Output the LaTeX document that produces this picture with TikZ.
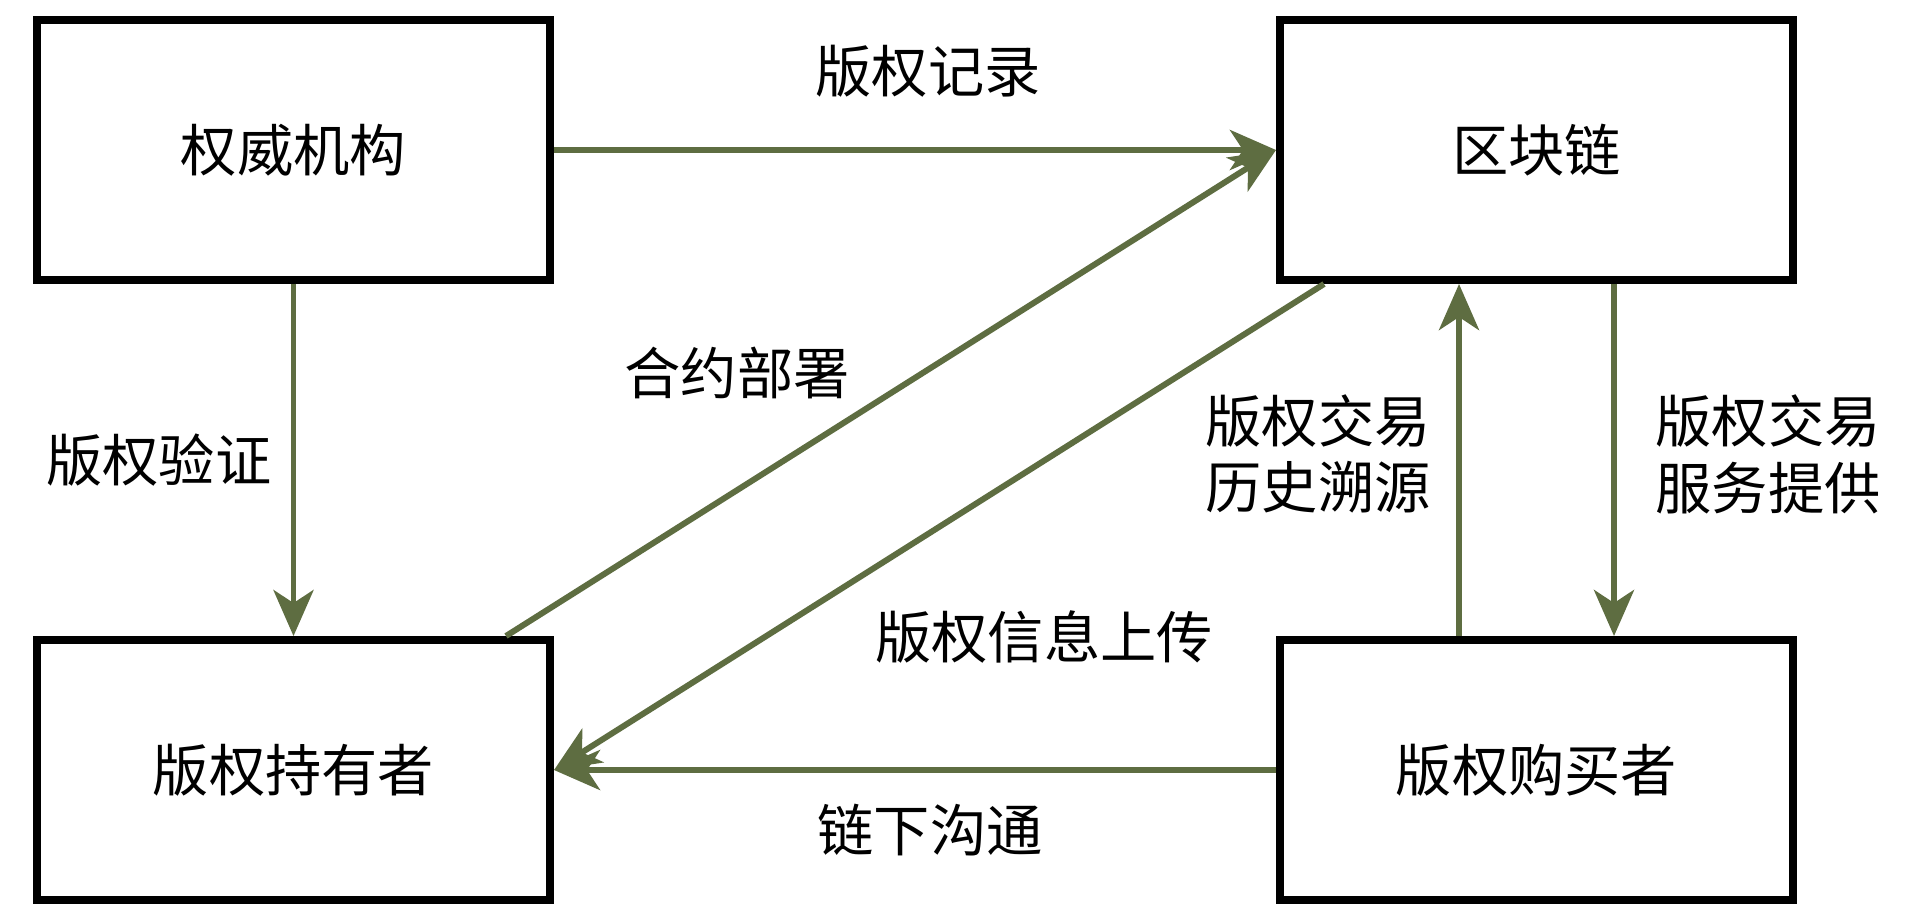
\documentclass[tikz,border=0pt]{standalone}
\usepackage{fontspec}
\setmainfont{Noto Sans CJK SC}
\usetikzlibrary{arrows.meta}
\definecolor{arrgreen}{RGB}{94,109,65}
\begin{document}
\begin{tikzpicture}[x=0.01cm,y=-0.01cm,
  box/.style={draw=black,line width=2.2pt,fill=white,minimum width=5.13cm,minimum height=2.60cm,font=\fontsize{16}{20}\selectfont,inner sep=0pt},
  lbl/.style={font=\fontsize{16}{19}\selectfont,align=center,inner sep=0pt},
  conn/.style={draw=arrgreen,line width=1.7pt,-{Stealth[length=0.46cm,width=0.40cm,inset=0.13cm]}}]
\useasboundingbox (0,0) rectangle (1913,921);
\node[box] (A) at (293.5,150) {权威机构};
\node[box] (B) at (1536.5,150) {区块链};
\node[box] (C) at (293.5,770) {版权持有者};
\node[box] (D) at (1536.5,770) {版权购买者};
\coordinate (c3s) at (506,636);
\coordinate (b4s) at (1324,284);
\coordinate (d5s) at (1459,636);
\coordinate (b5e) at (1459,284);
\coordinate (b6s) at (1614,284);
\coordinate (d6e) at (1614,636);
\draw[conn] (A.east) -- (B.west);
\draw[conn] (A.south) -- (C.north);
\draw[conn] (c3s) -- (B.west);
\draw[conn] (b4s) -- (C.east);
\draw[conn] (d5s) -- (b5e);
\draw[conn] (b6s) -- (d6e);
\draw[conn] (D.west) -- (C.east);
\node[lbl] (l1) at (928,71) {版权记录};
\node[lbl] (l2) at (159,460) {版权验证};
\node[lbl] (l3) at (737,373) {合约部署};
\node[lbl] (l4) at (1044,637) {版权信息上传};
\node[lbl] (l5) at (1318,454) {版权交易\\历史溯源};
\node[lbl] (l6) at (1768,454) {版权交易\\服务提供};
\node[lbl] (l7) at (930,830) {链下沟通};
\end{tikzpicture}
\end{document}
